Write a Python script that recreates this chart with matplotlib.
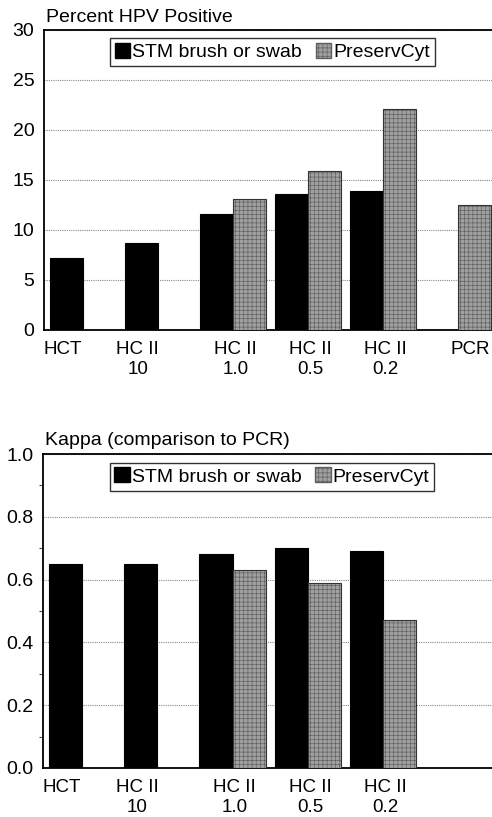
import matplotlib
matplotlib.use("Agg")
import matplotlib.pyplot as plt
import numpy as np
from matplotlib.patches import Patch

plt.rcParams['font.family'] = ['Liberation Sans', 'DejaVu Sans']
plt.rcParams['hatch.linewidth'] = 0.45

categories = ["HCT", "HC II\n10", "HC II\n1.0", "HC II\n0.5", "HC II\n0.2", "PCR"]
pct_stm = [7.2, 8.7, 11.6, 13.6, 13.9, np.nan]
pct_pres = [np.nan, np.nan, 13.1, 15.9, 22.1, 12.5]
kappa_cats = ["HCT", "HC II\n10", "HC II\n1.0", "HC II\n0.5", "HC II\n0.2"]
kappa_stm = [0.65, 0.65, 0.68, 0.70, 0.69]
kappa_pres = [np.nan, np.nan, 0.63, 0.59, 0.47]

legend_labels = ["STM brush or swab", "PreservCyt"]
titles = ["Percent HPV Positive", "Kappa (comparison to PCR)"]

W = 0.44
gray_face = '#a0a0a0'
hatch_col = '#5e5e5e'
HATCH = '++++'

fig = plt.figure(figsize=(4.92, 8.17), dpi=100)
ax1 = fig.add_axes([44/492, 1-330/817, 1-44/492, 300/817])
ax2 = fig.add_axes([43/492, 1-768/817, 1-43/492, 314/817])

def label_pos(stm, pres):
    pos = []
    for i, (s, p) in enumerate(zip(stm, pres)):
        if np.isnan(p):
            pos.append(i - W/2 - 0.05)
        elif np.isnan(s):
            pos.append(i + W/2 - 0.06)
        else:
            pos.append(i + 0.03)
    return pos

def draw(ax, cats, stm, pres, ylim, major, title, minor=None):
    x = np.arange(len(cats))
    ax.bar(x - W/2, stm, width=W, align='center', color='black', edgecolor='black', linewidth=0.8, zorder=3)
    ax.bar(x + W/2, pres, width=W, align='center', color=gray_face, edgecolor=hatch_col,
           hatch=HATCH, linewidth=0.0, zorder=3)
    ax.bar(x + W/2, pres, width=W, align='center', fill=False, edgecolor='#333333', linewidth=0.8, zorder=4)
    ax.set_xlim(-0.52, 5.45)
    ax.set_ylim(*ylim)
    ax.set_yticks(major)
    if minor is not None:
        ax.set_yticks(minor, minor=True)
        ax.tick_params(axis='y', which='minor', length=3, width=0.8, direction='out', color='#444')
    ax.yaxis.grid(True, linestyle=(0, (1, 1)), color='#888888', linewidth=0.8, zorder=0)
    ax.set_axisbelow(True)
    ax.tick_params(axis='y', which='major', length=0, labelsize=14, pad=7)
    ax.set_xticks(label_pos(stm, pres))
    ax.set_xticklabels(cats, fontsize=13.5, linespacing=1.2)
    ax.tick_params(axis='x', length=0, pad=8)
    for s in ['left', 'bottom', 'top']:
        ax.spines[s].set_linewidth(1.3)
    ax.spines['right'].set_visible(False)
    ax.text(0.004, 1.015, title, transform=ax.transAxes, fontsize=14, ha='left', va='bottom')
    handles = [Patch(facecolor='black', edgecolor='black'),
               Patch(facecolor=gray_face, edgecolor=hatch_col, hatch=HATCH)]
    leg = ax.legend(handles, legend_labels, loc='upper center', bbox_to_anchor=(0.51, 0.985),
                    ncol=2, fontsize=14, frameon=True, fancybox=False, edgecolor='black',
                    handlelength=0.8, handleheight=0.8, handletextpad=0.1, columnspacing=0.7,
                    borderpad=0.25, borderaxespad=0.2)
    leg.get_frame().set_linewidth(1.0)
    leg.set_zorder(10)

draw(ax1, categories, pct_stm, pct_pres, (0, 30), [0, 5, 10, 15, 20, 25, 30], titles[0])
ax1.set_yticklabels([str(v) for v in [0, 5, 10, 15, 20, 25, 30]])

# bottom chart keeps 6 category slots (PCR slot empty)
kcats = kappa_cats + [""]
kst = kappa_stm + [np.nan]
kpr = kappa_pres + [np.nan]
draw(ax2, kcats, kst, kpr, (0, 1.0), [0, 0.2, 0.4, 0.6, 0.8, 1.0], titles[1],
     minor=[0.1, 0.3, 0.5, 0.7, 0.9])
ax2.set_yticklabels(["0.0", "0.2", "0.4", "0.6", "0.8", "1.0"])
ax2.set_xticks(label_pos(kst, kpr)[:5])
ax2.set_xticklabels(kappa_cats, fontsize=13.5, linespacing=1.2)

fig.savefig("out.png", dpi=100)
